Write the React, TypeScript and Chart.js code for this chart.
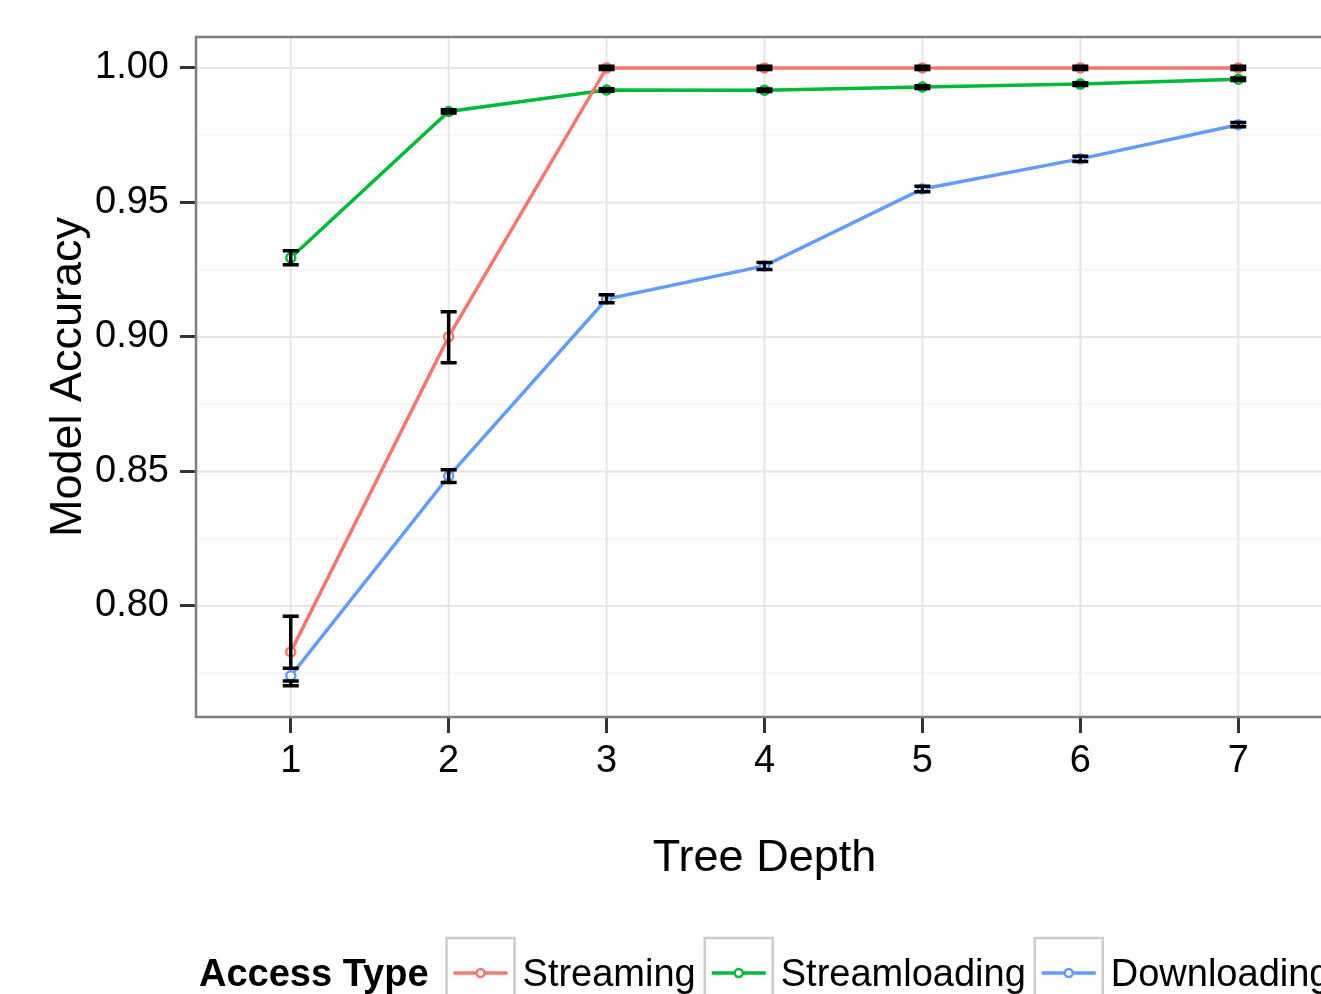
import { useEffect, useRef } from "react";
import { Chart, registerables } from "chart.js";

Chart.register(...registerables);

const FONT = "'Liberation Sans', Arial, Helvetica, sans-serif";

// ---- data ----
const depths = [1, 2, 3, 4, 5, 6, 7];
const seriesNames = ["Streaming", "Streamloading", "Downloading"];
const seriesColors = ["#F8766D", "#00BA38", "#619CFF"];

const streaming = [0.7829, 0.9001, 1.0, 1.0, 1.0, 1.0, 1.0];
const streamingLow = [0.7768, 0.8904, 0.9994, 0.9994, 0.9994, 0.9994, 0.9994];
const streamingHigh = [0.7962, 0.9094, 1.0006, 1.0006, 1.0006, 1.0006, 1.0006];

const streamloading = [0.9294, 0.9838, 0.9918, 0.9917, 0.9929, 0.994, 0.9958];
const streamloadingLow = [0.9268, 0.9832, 0.9913, 0.9912, 0.9924, 0.9935, 0.9953];
const streamloadingHigh = [0.932, 0.9845, 0.9923, 0.9922, 0.9934, 0.9945, 0.9963];

const downloading = [0.774, 0.8482, 0.9141, 0.9264, 0.955, 0.9662, 0.9789];
const downloadingLow = [0.7703, 0.8459, 0.9127, 0.9251, 0.954, 0.9652, 0.9781];
const downloadingHigh = [0.7721, 0.8506, 0.9157, 0.9277, 0.956, 0.9672, 0.9797];

const yTicks = [0.8, 0.85, 0.9, 0.95, 1.0];
const yMinorTicks = [0.775, 0.825, 0.875, 0.925, 0.975];

const xTitle = "Tree Depth";
const yTitle = "Model Accuracy";
const legendTitle = "Access Type";

const seriesValues = [streaming, streamloading, downloading];
const seriesLow = [streamingLow, streamloadingLow, downloadingLow];
const seriesHigh = [streamingHigh, streamloadingHigh, downloadingHigh];

const ggPlugin = {
  id: "ggDecor",
  beforeDatasetsDraw(chart: any) {
    const { ctx, chartArea, scales } = chart;
    const { left, right, top, bottom } = chartArea;
    const x = scales.x;
    const y = scales.y;
    ctx.save();
    ctx.lineWidth = 2;
    ctx.strokeStyle = "#f6f6f6";
    yMinorTicks.forEach((v) => {
      const py = y.getPixelForValue(v);
      ctx.beginPath();
      ctx.moveTo(left, py);
      ctx.lineTo(right, py);
      ctx.stroke();
    });
    ctx.strokeStyle = "#e6e6e6";
    yTicks.forEach((v) => {
      const py = y.getPixelForValue(v);
      ctx.beginPath();
      ctx.moveTo(left, py);
      ctx.lineTo(right, py);
      ctx.stroke();
    });
    depths.forEach((v) => {
      const px = x.getPixelForValue(v);
      ctx.beginPath();
      ctx.moveTo(px, top);
      ctx.lineTo(px, bottom);
      ctx.stroke();
    });
    ctx.restore();
  },
  afterDatasetsDraw(chart: any) {
    const { ctx, chartArea, scales } = chart;
    const x = scales.x;
    const y = scales.y;
    ctx.save();
    ctx.strokeStyle = "#000000";
    ctx.lineWidth = 3.5;
    ctx.lineCap = "butt";
    const capHalf = 8;
    seriesValues.forEach((_, si) => {
      depths.forEach((d, i) => {
        const px = x.getPixelForValue(d);
        const pLow = y.getPixelForValue(seriesLow[si][i]);
        const pHigh = y.getPixelForValue(seriesHigh[si][i]);
        ctx.beginPath();
        ctx.moveTo(px, pHigh);
        ctx.lineTo(px, pLow);
        ctx.moveTo(px - capHalf, pHigh);
        ctx.lineTo(px + capHalf, pHigh);
        ctx.moveTo(px - capHalf, pLow);
        ctx.lineTo(px + capHalf, pLow);
        ctx.stroke();
      });
    });
    // panel border
    ctx.strokeStyle = "#7f7f7f";
    ctx.lineWidth = 2.5;
    ctx.strokeRect(
      chartArea.left,
      chartArea.top,
      chartArea.right - chartArea.left,
      chartArea.bottom - chartArea.top
    );
    ctx.restore();
  },
  afterDraw(chart: any) {
    const { ctx, chartArea } = chart;
    ctx.save();
    ctx.fillStyle = "#000000";
    // axis titles
    ctx.font = `45px ${FONT}`;
    ctx.textAlign = "center";
    ctx.textBaseline = "alphabetic";
    ctx.fillText(xTitle, (chartArea.left + chartArea.right) / 2, 871);
    ctx.save();
    ctx.translate(81, (chartArea.top + chartArea.bottom) / 2);
    ctx.rotate(-Math.PI / 2);
    ctx.fillText(yTitle, 0, 0);
    ctx.restore();

    // legend
    const baseY = 986;
    const boxTop = 938;
    const boxSize = 68;
    ctx.textAlign = "left";
    ctx.font = `bold 38px ${FONT}`;
    let cx = 199;
    ctx.fillText(legendTitle, cx, baseY);
    cx += ctx.measureText(legendTitle).width + 18;
    ctx.font = `38px ${FONT}`;
    seriesNames.forEach((name, i) => {
      ctx.fillStyle = "#ffffff";
      ctx.fillRect(cx, boxTop, boxSize, boxSize);
      ctx.strokeStyle = "#cccccc";
      ctx.lineWidth = 2.5;
      ctx.strokeRect(cx, boxTop, boxSize, boxSize);
      const ly = boxTop + boxSize / 2 + 1;
      ctx.strokeStyle = seriesColors[i];
      ctx.lineWidth = 3.5;
      ctx.beginPath();
      ctx.moveTo(cx + 7, ly);
      ctx.lineTo(cx + boxSize - 7, ly);
      ctx.stroke();
      ctx.fillStyle = "#ffffff";
      ctx.lineWidth = 2.5;
      ctx.beginPath();
      ctx.arc(cx + boxSize / 2, ly, 4, 0, Math.PI * 2);
      ctx.fill();
      ctx.stroke();
      ctx.fillStyle = "#000000";
      const tx = cx + boxSize + 8;
      ctx.fillText(name, tx, baseY);
      cx = tx + ctx.measureText(name).width + 9;
    });
    ctx.restore();
  },
};

export default function App() {
  const canvasRef = useRef<HTMLCanvasElement | null>(null);

  useEffect(() => {
    const canvas = canvasRef.current;
    if (!canvas) return;
    Chart.defaults.font.family = FONT;
    const chart = new Chart(canvas, {
      type: "line",
      data: {
        datasets: seriesNames.map((name, si) => ({
          label: name,
          data: depths.map((d, i) => ({ x: d, y: seriesValues[si][i] })),
          borderColor: seriesColors[si],
          backgroundColor: seriesColors[si],
          pointBackgroundColor: "#ffffff",
          pointBorderColor: seriesColors[si],
          pointBorderWidth: 2.5,
          pointRadius: 4.5,
          borderWidth: 3.5,
          tension: 0,
          fill: false,
        })),
      },
      options: {
        animation: false,
        responsive: false,
        devicePixelRatio: 1,
        layout: { padding: { top: 37, right: 6, left: 0, bottom: 0 } },
        plugins: {
          legend: { display: false },
          tooltip: { enabled: false },
          title: { display: false },
        },
        scales: {
          x: {
            type: "linear",
            min: 0.4,
            max: 7.6,
            afterBuildTicks: (scale: any) => {
              scale.ticks = depths.map((v) => ({ value: v }));
            },
            afterFit: (scale: any) => {
              scale.height = 277;
            },
            ticks: {
              autoSkip: false,
              maxRotation: 0,
              padding: 6,
              color: "#000000",
              font: { size: 38, family: FONT },
              callback: (v: any) => String(v),
            },
            grid: {
              drawOnChartArea: false,
              drawTicks: true,
              tickLength: 16,
              tickWidth: 3,
              tickColor: "#333333",
            },
            border: { display: false },
          },
          y: {
            type: "linear",
            min: 0.7587,
            max: 1.0115,
            afterBuildTicks: (scale: any) => {
              scale.ticks = yTicks.map((v) => ({ value: v }));
            },
            afterFit: (scale: any) => {
              scale.width = 196;
            },
            ticks: {
              autoSkip: false,
              padding: 11,
              color: "#000000",
              font: { size: 38, family: FONT },
              callback: (v: any) => Number(v).toFixed(2),
            },
            grid: {
              drawOnChartArea: false,
              drawTicks: true,
              tickLength: 16,
              tickWidth: 3,
              tickColor: "#333333",
            },
            border: { display: false },
          },
        },
      },
      plugins: [ggPlugin],
    });
    return () => chart.destroy();
  }, []);

  return (
    <div
      style={{
        position: "fixed",
        left: 0,
        top: 0,
        width: 1321,
        height: 994,
        overflow: "hidden",
        background: "#ffffff",
      }}
    >
      <canvas
        ref={canvasRef}
        width={1340}
        height={994}
        style={{ width: 1340, height: 994, display: "block" }}
      />
    </div>
  );
}
